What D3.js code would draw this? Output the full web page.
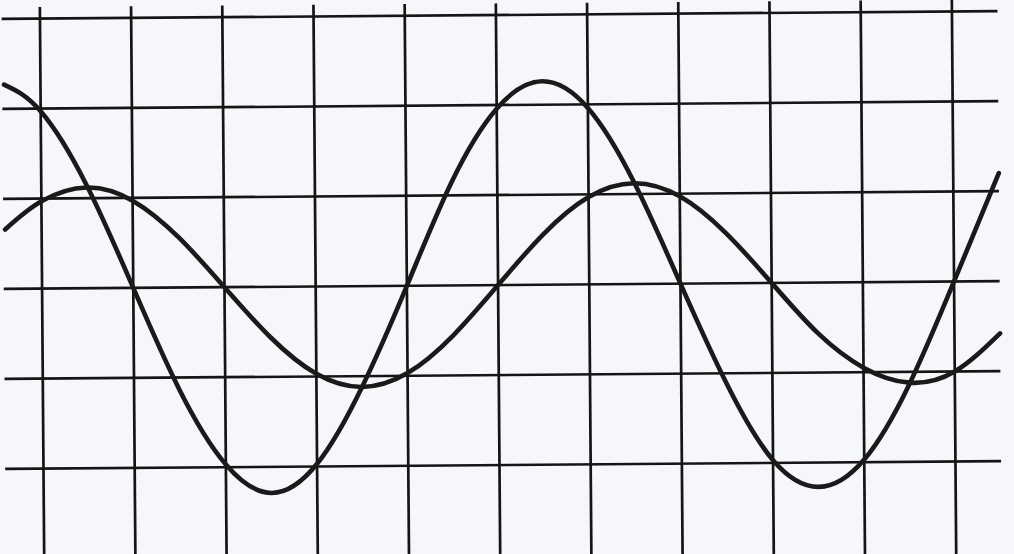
<!DOCTYPE html>
<html>
<head>
<meta charset="utf-8">
<script src="https://cdn.jsdelivr.net/npm/d3@7/dist/d3.min.js"></script>
<style>
html,body{margin:0;padding:0;background:#f5f7fa;overflow:hidden;}
svg{display:block;}
</style>
</head>
<body>
<script>
// grid positions (data units)
const xGrid = [0,1,2,3,4,5,6,7,8,9,10];
const yGrid = [3,2,1,0,-1,-2];
// sample positions along the x axis
const xs = [-0.4,0,0.5,1,1.5,2,2.5,3,3.5,4,4.5,5,5.5,6,6.5,7,7.5,8,8.5,9,9.5,10,10.5];
// large-amplitude wave
const waveA = [2.27,1.97,1.14,0,-1.14,-1.97,-2.29,-1.97,-1.12,0,1.15,1.96,2.26,1.96,1.13,0,-1.12,-1.97,-2.27,-1.97,-1.14,0,1.2];
// small-amplitude wave
const waveB = [0.66,0.97,1.12,0.97,0.56,0,-0.56,-0.97,-1.12,-0.97,-0.56,0,0.56,0.97,1.12,0.97,0.56,0,-0.56,-0.95,-1.12,-1.0,-0.58];

const W = 1014, H = 554;
const svg = d3.select("body").append("svg").attr("width", W).attr("height", H);
svg.append("rect").attr("width", W).attr("height", H).attr("fill", "#f5f7fa");

const x = d3.scaleLinear().domain([0, 10]).range([42, 954]);
const y = d3.scaleLinear().domain([-2, 3]).range([465, 15]);

const g = svg.append("g").attr("transform", "rotate(-0.45,507,277)");

const gridColor = "#151515";
g.selectAll("line.v").data(xGrid).enter().append("line")
  .attr("class", "v")
  .attr("x1", d => x(d)).attr("x2", d => x(d))
  .attr("y1", y(3.13)).attr("y2", y(-3.3))
  .attr("stroke", gridColor).attr("stroke-width", 2.7);

g.selectAll("line.h").data(yGrid).enter().append("line")
  .attr("class", "h")
  .attr("x1", x(-0.42)).attr("x2", x(10.5))
  .attr("y1", d => y(d)).attr("y2", d => y(d))
  .attr("stroke", gridColor).attr("stroke-width", 2.7);

const line = d3.line().x(d => x(d[0])).y(d => y(d[1])).curve(d3.curveNatural);

[waveA, waveB].forEach(vals => {
  g.append("path")
    .datum(xs.map((u, i) => [u, vals[i]]))
    .attr("d", line)
    .attr("fill", "none")
    .attr("stroke", "#1a1a1a")
    .attr("stroke-width", 4.6)
    .attr("stroke-linecap", "round");
});
</script>
</body>
</html>
